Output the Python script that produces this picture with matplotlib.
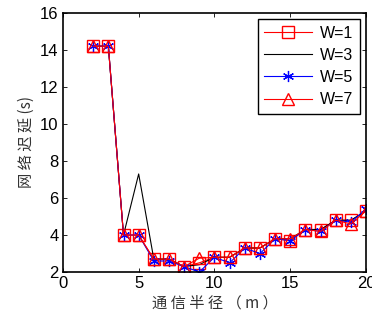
import matplotlib
matplotlib.use('Agg')
import matplotlib.pyplot as plt
import numpy as np

plt.rcParams['font.family'] = ['Liberation Sans', 'Noto Sans CJK SC', 'DejaVu Sans']

radius = [2, 3, 4, 5, 6, 7, 8, 9, 10, 11, 12, 13, 14, 15, 16, 17, 18, 19, 20]
w1 = [14.2, 14.2, 4.0, 4.0, 2.7, 2.7, 2.3, 2.5, 2.8, 2.8, 3.3, 3.3, 3.8, 3.7, 4.3, 4.3, 4.8, 4.8, 5.3]
w3 = [14.2, 14.2, 4.0, 7.3, 2.7, 2.7, 2.3, 2.4, 2.8, 2.8, 3.3, 3.3, 3.8, 3.8, 4.3, 4.3, 4.8, 4.8, 5.3]
w5 = [14.2, 14.2, 4.0, 4.0, 2.6, 2.6, 2.3, 2.0, 2.8, 2.5, 3.3, 3.0, 3.8, 3.7, 4.3, 4.2, 4.8, 4.7, 5.4]
w7 = [14.2, 14.2, 4.0, 4.0, 2.7, 2.7, 2.3, 2.75, 2.8, 2.8, 3.3, 3.3, 3.8, 3.8, 4.3, 4.2, 4.8, 4.6, 5.3]
labels = ['W=1', 'W=3', 'W=5', 'W=7']

fig = plt.figure(figsize=(3.72, 3.22), dpi=100)
ax = fig.add_axes([0.169, 0.155, 0.815, 0.805])

# matlab-style asterisk marker
ast = (6, 2, 0)
ax.plot(radius, w1, color='red', lw=0.8, marker='s', ms=8, mfc='none', mec='red', label=labels[0])
ax.plot(radius, w3, color='black', lw=0.8, label=labels[1])
ax.plot(radius, w5, color='blue', lw=0.8, marker=ast, ms=8, mec='blue', mew=0.9, label=labels[2])
ax.plot(radius, w7, color='red', lw=0.8, marker='^', ms=8, mfc='none', mec='red', label=labels[3])

ax.set_xlim(0, 20)
ax.set_ylim(2, 16)
ax.set_xticks([0, 5, 10, 15, 20])
ax.set_yticks(np.arange(2, 17, 2))
ax.tick_params(direction='in', top=True, right=True, labelsize=12, length=3, width=0.6, pad=3)
for s in ax.spines.values():
    s.set_linewidth(1.2)

ax.set_xlabel('通 信 半 径 （ m ）', fontsize=11, family=['Noto Sans CJK SC', 'DejaVu Sans'], color='#333333', labelpad=2)
ax.set_ylabel('网 络 迟 延 (s)', fontsize=11, family=['Noto Sans CJK SC', 'DejaVu Sans'], color='#333333', labelpad=4)

leg = ax.legend(loc='upper right', fontsize=11.5, handlelength=3.0, fancybox=False,
                framealpha=1, edgecolor='black', borderpad=0.4, labelspacing=0.45,
                borderaxespad=0.4, handletextpad=0.5)
leg.get_frame().set_linewidth(1.0)

fig.savefig('out.png', dpi=100)
